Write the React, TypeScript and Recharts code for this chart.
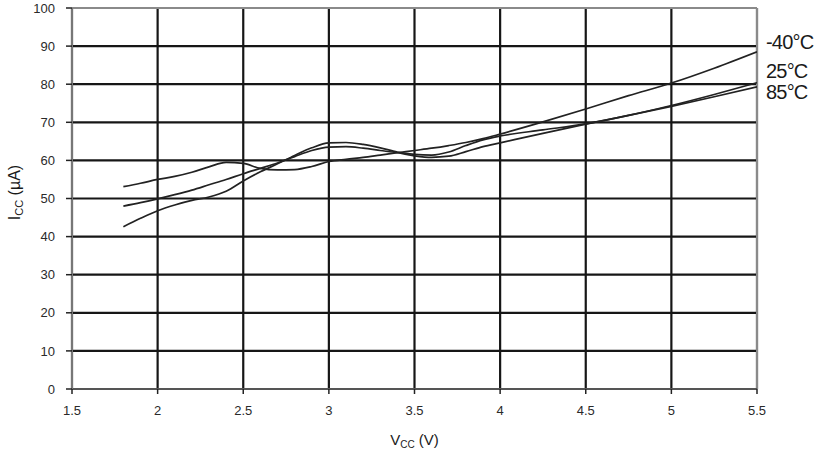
import React from 'react';
import { LineChart, Line, XAxis, YAxis, CartesianGrid, ReferenceLine, Label } from 'recharts';

const VCC = [1.8, 1.9, 2.0, 2.1, 2.2, 2.3, 2.4, 2.5, 2.6, 2.7, 2.8, 2.9, 3.0, 3.1, 3.2, 3.3, 3.4, 3.5, 3.6, 3.7, 3.8, 3.9, 4.0, 4.25, 4.5, 4.75, 5.0, 5.25, 5.5];
const ICC_M40 = [53.1, 54.0, 55.0, 55.8, 56.9, 58.3, 59.5, 59.2, 57.9, 57.5, 57.6, 58.4, 59.7, 60.3, 60.8, 61.4, 62.0, 62.6, 63.2, 63.9, 64.7, 65.7, 66.9, 70.1, 73.5, 77.0, 80.3, 84.2, 88.5];
const ICC_25 = [42.6, 44.8, 46.8, 48.3, 49.5, 50.4, 51.9, 54.6, 57.0, 59.1, 61.3, 63.3, 64.6, 64.7, 64.2, 63.3, 62.2, 61.6, 61.4, 62.2, 63.9, 65.4, 66.4, 68.0, 69.6, 71.8, 74.4, 77.3, 80.4];
const ICC_85 = [48.0, 48.9, 49.9, 51.0, 52.2, 53.6, 55.0, 56.5, 57.9, 59.3, 61.0, 62.6, 63.5, 63.6, 63.2, 62.6, 62.0, 61.2, 60.8, 61.1, 62.3, 63.6, 64.6, 67.1, 69.5, 71.8, 74.2, 76.7, 79.3];
const X_TICKS = [1.5, 2, 2.5, 3, 3.5, 4, 4.5, 5, 5.5];
const Y_TICKS = [0, 10, 20, 30, 40, 50, 60, 70, 80, 90, 100];
const SERIES_LABELS = ['-40°C', '25°C', '85°C'];

const data = VCC.map((v, i) => ({ v, a: ICC_M40[i], b: ICC_25[i], c: ICC_85[i] }));
const LAST = VCC.length - 1;
const FONT = 'Arial, "Liberation Sans", Helvetica, sans-serif';

const endLabel = (text: string, dy: number) => (props: any) => {
  const { x, y, index } = props;
  if (index !== LAST) return null;
  return (
    <text x={x + 9} y={y + dy} fontSize={20} fontFamily={FONT} fill="#1a1a1a" letterSpacing={-0.8} dominantBaseline="middle">
      {text}
    </text>
  );
};

const YTitle = (props: any) => {
  const vb = props.viewBox || { x: 0, y: 8, width: 72, height: 381 };
  const cx = vb.x + 20;
  const cy = vb.y + vb.height / 2 - 6;
  return (
    <text x={cx} y={cy} transform={`rotate(-90, ${cx}, ${cy})`} textAnchor="middle" fontSize={16} fontFamily={FONT} fill="#1a1a1a">
      I<tspan fontSize={11} dy={3}>CC</tspan><tspan dy={-3}> (µA)</tspan>
    </text>
  );
};

const XTitle = (props: any) => {
  const vb = props.viewBox || { x: 72, y: 389, width: 685, height: 66 };
  const cx = vb.x + vb.width / 2;
  const cy = vb.y + 56;
  return (
    <text x={cx} y={cy} textAnchor="middle" fontSize={15} fontFamily={FONT} fill="#1a1a1a">
      V<tspan fontSize={10} dy={3}>CC</tspan><tspan dy={-3}> (V)</tspan>
    </text>
  );
};

const tickStyle = { fontSize: 13, fontFamily: FONT, fill: '#2a2a2a' };

export default function App() {
  return (
    <div style={{ position: 'absolute', left: 0, top: 0, width: 822, height: 455, background: '#fff' }}>
      <LineChart width={822} height={455} data={data} margin={{ top: 8, right: 65, bottom: 0, left: 0 }} style={{ overflow: 'visible' }}>
        <CartesianGrid stroke="#161616" strokeWidth={2.2} />
        <XAxis
          dataKey="v"
          type="number"
          domain={[1.5, 5.5]}
          ticks={X_TICKS}
          tickFormatter={(t: number) => String(t)}
          height={66}
          stroke="#555"
          strokeWidth={2}
          tickSize={5}
          tickMargin={12}
          tick={tickStyle}
          tickLine={{ stroke: '#222', strokeWidth: 1.5 }}
          allowDataOverflow
        >
          <Label content={<XTitle />} />
        </XAxis>
        <YAxis
          type="number"
          domain={[0, 100]}
          ticks={Y_TICKS}
          width={72}
          stroke="#777"
          strokeWidth={2}
          tickSize={6}
          tickMargin={11}
          tick={tickStyle}
          tickLine={{ stroke: '#222', strokeWidth: 1.5 }}
          allowDataOverflow
        >
          <Label content={<YTitle />} />
        </YAxis>
        <ReferenceLine y={100} stroke="#8a8a8a" strokeWidth={2} />
        <ReferenceLine x={5.5} stroke="#8a8a8a" strokeWidth={2} />
        <Line type="monotone" dataKey="a" stroke="#222" strokeWidth={1.7} dot={false} isAnimationActive={false} label={endLabel(SERIES_LABELS[0], -8)} />
        <Line type="monotone" dataKey="b" stroke="#222" strokeWidth={1.7} dot={false} isAnimationActive={false} label={endLabel(SERIES_LABELS[1], -10)} />
        <Line type="monotone" dataKey="c" stroke="#222" strokeWidth={1.7} dot={false} isAnimationActive={false} label={endLabel(SERIES_LABELS[2], 7)} />
      </LineChart>
    </div>
  );
}
